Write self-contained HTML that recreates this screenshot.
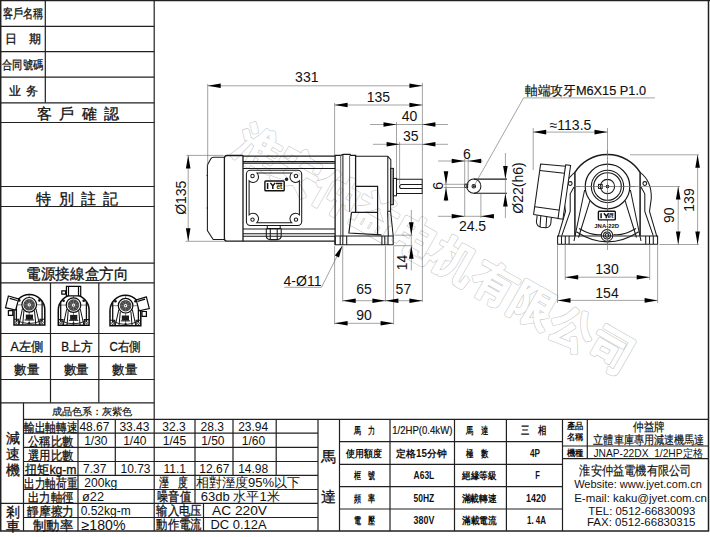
<!DOCTYPE html>
<html><head><meta charset="utf-8">
<style>
html,body{margin:0;padding:0;background:#fff;width:710px;height:537px;overflow:hidden}
svg{display:block;font-family:"Liberation Sans",sans-serif}
.g line,.g path,.g rect{stroke:#202020;stroke-width:1.2;fill:none}
.k{fill:#111}
.m{stroke:#111;stroke-width:0.3}
.m1{stroke:#111;stroke-width:0.18}
.o path,.o rect,.o circle,.o line{stroke:#1a1a1a;stroke-width:1.05;fill:none}
.dm path,.dm line{stroke:#666;stroke-width:0.6;fill:none}
.ar{fill:#000;stroke:none}
.wm{fill:none;stroke:#d2d2d2;stroke-width:0.6}
.dt{font-size:14px;fill:#111}
</style></head><body>
<svg width="710" height="537" viewBox="0 0 710 537">
<g transform="translate(231.6,151.1) rotate(29.71)" style="font-size:44px;font-weight:bold" letter-spacing="1.3"><text x="0" y="0" style="fill:none;stroke:#c6c6c6;stroke-width:2.7;stroke-linejoin:round">淮安仲益电机有限公司</text><text x="0" y="0" style="fill:#fff;stroke:#fff;stroke-width:1.5;stroke-linejoin:round">淮安仲益电机有限公司</text></g><g class="g"><path d="M0,0.6H710 M0.7,0V531.5 M708.5,0V531.5 M0,531H709" style="stroke-width:1.5"/><path d="M154.2,0V531 M45.3,0V102.8"/><path d="M0,26.3H154.2M0,51.6H154.2M0,77.2H154.2M0,102.8H154.2M0,122.5H154.2M0,186.5H154.2M0,206.5H154.2M0,263.2H154.2M0,282.8H154.2M0,333.5H154.2M0,356.5H154.2M0,379.5H154.2M0,402.8H154.2"/><path d="M50.5,282.8V402.8 M98.8,282.8V402.8"/><path d="M23.5,402.8V531 M23.5,419.3H708.5 M23.5,433.2H318 M23.5,447.3H318 M23.5,461.5H318 M23.5,475.3H318 M23.5,489.5H318 M0,503.3H318 M23.5,517.5H318"/><path d="M78,419.3V531 M115.3,419.3V475.3 M195,419.3V503.3 M233,419.3V475.3 M276.2,419.3V475.3 M318,419.3V531 M339.5,419.3V531 M203.5,503.3V531"/><path d="M339.5,441.7H562.5 M339.5,464.3H562.5 M339.5,486.6H562.5 M339.5,509H562.5"/><path d="M390,419.3V531 M454.5,419.3V531 M506.4,419.3V531 M562.5,419.3V531"/><path d="M562.5,446H708.5 M562.5,458.6H708.5 M587.3,419.3V458.6"/></g><g class="k"><text x="2.8" y="18" textLength="40.2" lengthAdjust="spacingAndGlyphs" class="m" style="font-size:12.5px">客戶名稱</text><text x="5" y="42.6" class="m" style="font-size:12px">日</text><text x="28.5" y="42.6" class="m" style="font-size:12px">期</text><text x="2" y="69.3" textLength="41" lengthAdjust="spacingAndGlyphs" class="m" style="font-size:12px">合同號碼</text><text x="9" y="94.8" class="m" style="font-size:12px">业</text><text x="25.5" y="94.8" class="m" style="font-size:12px">务</text><text x="36.9" y="119.2" class="m" style="font-size:14.5px">客</text><text x="59" y="119.2" class="m" style="font-size:14.5px">戶</text><text x="81.5" y="119.2" class="m" style="font-size:14.5px">確</text><text x="103.8" y="119.2" class="m" style="font-size:14.5px">認</text><text x="36.2" y="203.5" class="m" style="font-size:14.5px">特</text><text x="58.5" y="203.5" class="m" style="font-size:14.5px">別</text><text x="81" y="203.5" class="m" style="font-size:14.5px">註</text><text x="103.3" y="203.5" class="m" style="font-size:14.5px">記</text><text x="26.4" y="278.6" textLength="101.8" lengthAdjust="spacingAndGlyphs" class="m" style="font-size:14.5px">電源接線盒方向</text><text x="10.4" y="350.8" textLength="32.6" lengthAdjust="spacingAndGlyphs" class="m" style="font-size:13px">A左側</text><text x="61.3" y="350.8" textLength="31.2" lengthAdjust="spacingAndGlyphs" class="m" style="font-size:13px">B上方</text><text x="109.5" y="350.8" textLength="31.3" lengthAdjust="spacingAndGlyphs" class="m" style="font-size:13px">C右側</text><text x="14.3" y="374" textLength="25" lengthAdjust="spacingAndGlyphs" class="m" style="font-size:13px">數量</text><text x="63.9" y="374" textLength="25" lengthAdjust="spacingAndGlyphs" class="m" style="font-size:13px">數量</text><text x="112" y="374" textLength="25" lengthAdjust="spacingAndGlyphs" class="m" style="font-size:13px">數量</text><text x="51.6" y="414.6" textLength="81" lengthAdjust="spacingAndGlyphs" class="m1" style="font-size:10px">成品色系：灰紫色</text><text x="5.8" y="443" class="m" style="font-size:13.5px">減</text><text x="5.8" y="458.5" class="m" style="font-size:13.5px">速</text><text x="5.8" y="475" class="m" style="font-size:13.5px">機</text><text x="5.8" y="516.5" class="m" style="font-size:13.5px">剎</text><text x="5.8" y="530.5" class="m" style="font-size:13.5px">車</text><text x="23.9" y="431.8" textLength="53.3" lengthAdjust="spacingAndGlyphs" class="m" style="font-size:13px">輸出軸轉速</text><text x="27.9" y="445.90000000000003" textLength="45.4" lengthAdjust="spacingAndGlyphs" class="m" style="font-size:13px">公稱比數</text><text x="27.9" y="460.1" textLength="45.4" lengthAdjust="spacingAndGlyphs" class="m" style="font-size:13px">選用比數</text><text x="25" y="473.90000000000003" textLength="51.5" lengthAdjust="spacingAndGlyphs" class="m" style="font-size:13px">扭矩kg-m</text><text x="23.9" y="488.1" textLength="53.3" lengthAdjust="spacingAndGlyphs" class="m" style="font-size:13px">出力軸荷重</text><text x="27.9" y="501.90000000000003" textLength="45.4" lengthAdjust="spacingAndGlyphs" class="m" style="font-size:13px">出力軸徑</text><text x="27" y="516.1" textLength="47" lengthAdjust="spacingAndGlyphs" class="m" style="font-size:13px">靜摩擦力</text><text x="33" y="529.6" textLength="40" lengthAdjust="spacingAndGlyphs" class="m" style="font-size:13px">制動率</text><text x="79.4" y="430.8" style="font-size:12px">48.67</text><text x="119.4" y="430.8" style="font-size:12px">33.43</text><text x="162.3" y="430.8" style="font-size:12px">32.3</text><text x="200.6" y="430.8" style="font-size:12px">28.3</text><text x="238.2" y="430.8" style="font-size:12px">23.94</text><text x="84.2" y="444.7" style="font-size:12px">1/30</text><text x="123.2" y="444.7" style="font-size:12px">1/40</text><text x="162.8" y="444.7" style="font-size:12px">1/45</text><text x="201.2" y="444.7" style="font-size:12px">1/50</text><text x="241.8" y="444.7" style="font-size:12px">1/60</text><text x="83" y="472.8" style="font-size:12px">7.37</text><text x="120.5" y="472.8" style="font-size:12px">10.73</text><text x="163.5" y="472.8" style="font-size:12px">11.1</text><text x="199.3" y="472.8" style="font-size:12px">12.67</text><text x="238.2" y="472.8" style="font-size:12px">14.98</text><text x="84.2" y="486.8" textLength="33" lengthAdjust="spacingAndGlyphs" style="font-size:13px">200kg</text><text x="82" y="500.8" textLength="22" lengthAdjust="spacingAndGlyphs" style="font-size:13px">ø22</text><text x="80.7" y="514.6" textLength="50" lengthAdjust="spacingAndGlyphs" style="font-size:13px">0.52kg-m</text><text x="81.5" y="529.8" textLength="44" lengthAdjust="spacingAndGlyphs" style="font-size:14px">≥180%</text><text x="159" y="487.3" textLength="29" lengthAdjust="spacingAndGlyphs" class="m" style="font-size:12.5px">溼　度</text><text x="157" y="501.2" textLength="34" lengthAdjust="spacingAndGlyphs" class="m" style="font-size:12.5px">噪音值</text><text x="156.3" y="515.2" textLength="45.2" lengthAdjust="spacingAndGlyphs" class="m" style="font-size:12.5px">输入电压</text><text x="156.3" y="529" textLength="45.2" lengthAdjust="spacingAndGlyphs" class="m" style="font-size:12.5px">動作電流</text><text x="195.8" y="487.3" textLength="104.5" lengthAdjust="spacingAndGlyphs" style="font-size:13px">相對溼度95%以下</text><text x="200.7" y="501.2" textLength="79" lengthAdjust="spacingAndGlyphs" style="font-size:13px">63db 水平1米</text><text x="212" y="515" textLength="55" lengthAdjust="spacingAndGlyphs" style="font-size:13.5px">AC  220V</text><text x="210.5" y="529" textLength="56" lengthAdjust="spacingAndGlyphs" style="font-size:13.5px">DC 0.12A</text><text x="320.8" y="462.3" class="m" style="font-size:15px">馬</text><text x="320.8" y="501.5" class="m" style="font-size:15px">達</text></g><g class="k"><text x="354.3" y="434.3" textLength="21" lengthAdjust="spacingAndGlyphs" style="font-size:10px;font-weight:bold">馬　力</text><text x="392.2" y="434.3" textLength="60.2" lengthAdjust="spacingAndGlyphs" class="m1" style="font-size:10.5px">1/2HP(0.4kW)</text><text x="466" y="434.3" textLength="22" lengthAdjust="spacingAndGlyphs" style="font-size:10px;font-weight:bold">馬　達</text><text x="521" y="434.3" textLength="25" lengthAdjust="spacingAndGlyphs" style="font-size:11px;font-weight:bold">三　相</text><text x="346.2" y="456.8" textLength="35.6" lengthAdjust="spacingAndGlyphs" style="font-size:10px;font-weight:bold">使用額度</text><text x="396.4" y="456.8" textLength="50.2" lengthAdjust="spacingAndGlyphs" style="font-size:10px;font-weight:bold">定格15分钟</text><text x="466" y="456.8" textLength="22" lengthAdjust="spacingAndGlyphs" style="font-size:10px;font-weight:bold">極　數</text><text x="530" y="456.8" textLength="10" lengthAdjust="spacingAndGlyphs" style="font-size:10px;font-weight:bold">4P</text><text x="354.3" y="479.2" textLength="21" lengthAdjust="spacingAndGlyphs" style="font-size:10px;font-weight:bold">框　號</text><text x="413.6" y="479.2" textLength="20.7" lengthAdjust="spacingAndGlyphs" style="font-size:10px;font-weight:bold">A63L</text><text x="462.2" y="479.2" textLength="34.6" lengthAdjust="spacingAndGlyphs" style="font-size:10px;font-weight:bold">絕緣等級</text><text x="535.2" y="479.2" textLength="4.6" lengthAdjust="spacingAndGlyphs" style="font-size:10px;font-weight:bold">F</text><text x="354.3" y="501.6" textLength="21" lengthAdjust="spacingAndGlyphs" style="font-size:10px;font-weight:bold">頻　率</text><text x="413.6" y="501.6" textLength="20.7" lengthAdjust="spacingAndGlyphs" style="font-size:10px;font-weight:bold">50HZ</text><text x="461.5" y="501.6" textLength="35.3" lengthAdjust="spacingAndGlyphs" style="font-size:10px;font-weight:bold">滿載轉速</text><text x="526" y="501.6" textLength="20" lengthAdjust="spacingAndGlyphs" style="font-size:10px;font-weight:bold">1420</text><text x="354.3" y="523.8" textLength="21" lengthAdjust="spacingAndGlyphs" style="font-size:10px;font-weight:bold">電　壓</text><text x="413.6" y="523.8" textLength="20.7" lengthAdjust="spacingAndGlyphs" style="font-size:10px;font-weight:bold">380V</text><text x="462.2" y="523.8" textLength="34.6" lengthAdjust="spacingAndGlyphs" style="font-size:10px;font-weight:bold">滿載電流</text><text x="527" y="523.8" textLength="19" lengthAdjust="spacingAndGlyphs" style="font-size:10px;font-weight:bold">1. 4A</text></g><g class="k"><text x="566.6" y="429.4" textLength="16.6" lengthAdjust="spacingAndGlyphs" style="font-size:8.5px;font-weight:bold">產品</text><text x="566.6" y="440" textLength="16.6" lengthAdjust="spacingAndGlyphs" style="font-size:8.5px;font-weight:bold">名稱</text><text x="566.6" y="456" textLength="16.6" lengthAdjust="spacingAndGlyphs" style="font-size:8.5px;font-weight:bold">機種</text><text x="632.9" y="431.3" textLength="31.9" lengthAdjust="spacingAndGlyphs" class="m1" style="font-size:11.5px">仲益牌</text><text x="593.4" y="443.6" textLength="110.9" lengthAdjust="spacingAndGlyphs" class="m1" style="font-size:11.5px">立體車庫專用減速機馬達</text><text x="593.4" y="457" textLength="109.6" lengthAdjust="spacingAndGlyphs" style="font-size:11px">JNAP-22DX&#160;&#160;1/2HP定格</text><text x="579.3" y="475.3" textLength="112.3" lengthAdjust="spacingAndGlyphs" class="m1" style="font-size:12.5px">淮安仲益電機有限公司</text><text x="574.2" y="488" textLength="127.6" lengthAdjust="spacingAndGlyphs" style="font-size:10px">Website: www.jyet.com.cn</text><text x="574.2" y="501.6" textLength="132.7" lengthAdjust="spacingAndGlyphs" style="font-size:10px">E-mail: kaku@jyet.com.cn</text><text x="588.3" y="514.8" textLength="107.1" lengthAdjust="spacingAndGlyphs" style="font-size:10.5px">TEL: 0512-66830093</text><text x="587" y="526.3" textLength="108.4" lengthAdjust="spacingAndGlyphs" style="font-size:10.5px">FAX: 0512-66830315</text></g><defs><g id="ic"><path d="M-15.2,20.1V5A15.3,15.3 0 0 1 15.6,5V20.1H-15.2Z" style="stroke:#0a0a0a;stroke-width:1.5;fill:#fff"/><path d="M-15.5,0H15.8 M0,-10V20" style="stroke:#333;stroke-width:0.6;fill:none"/><path d="M-12.8,-4V19 M12.9,-4V19" style="stroke:#111;stroke-width:1.3;fill:none"/><path d="M-6.8,4L-10.2,20 M6.8,4L10.4,20 M-5.3,6L-6.5,20 M5.3,6L6.6,20" style="stroke:#111;stroke-width:1;fill:none"/><path d="M-12.8,15.5Q0,22 12.9,15.5" style="stroke:#111;stroke-width:0.9;fill:none"/><path d="M-15.2,14.5H-10.5V20.1 M15.6,14.5H10.8V20.1" style="stroke:#111;stroke-width:1.1;fill:none"/><circle cx="-13" cy="17.6" r="1" style="fill:#fff;stroke:#111;stroke-width:0.6"/><circle cx="13.2" cy="17.6" r="1" style="fill:#fff;stroke:#111;stroke-width:0.6"/><circle r="7.3" style="stroke:#0a0a0a;stroke-width:1.2;fill:#fff"/><circle r="5.8" style="fill:#4a4a4a"/><path d="M-5.6,0H5.6 M0,-5.6V5.6 M-4,-4L4,4 M-4,4L4,-4" style="stroke:#999;stroke-width:0.45"/><circle r="1.6" style="fill:#fff"/><circle r="0.6" style="fill:#333"/><rect x="-3.4" y="9.8" width="7.2" height="5" style="fill:#1a1a1a"/><path d="M-4.6,15.2H4.8" style="stroke:#111;stroke-width:1"/><circle cx="-9.9" cy="-4.4" r="1.3" style="fill:#111"/><circle cx="10.2" cy="-4.4" r="1.3" style="fill:#111"/><circle cx="0" cy="18.3" r="1.1" style="fill:#111"/></g></defs><g transform="translate(29.2,304.8)"><use href="#ic"/><path d="M-20.8,-8.8L-10.6,-5.8L-13.5,5.2L-23.7,2.9Z M-19.5,-6.5L-12,-4.3" style="stroke:#0a0a0a;stroke-width:1.2;fill:#fff"/><path d="M-20.8,5.8H-16.4V10.6H-20.8Z" style="stroke:#0a0a0a;stroke-width:1.2;fill:#fff"/></g><g transform="translate(73.5,305.1)"><use href="#ic"/><path d="M-7.1,-18.8H7.2V-9.2H-7.1Z M-5,-18.8V-9.2 M5,-18.8V-9.2" style="stroke:#0a0a0a;stroke-width:1.2;fill:#fff"/><path d="M-11.7,-14.2H-7.9V-10.9H-11.7Z" style="stroke:#0a0a0a;stroke-width:1.2;fill:#fff"/></g><g transform="translate(125.6,305.7) scale(-1,1)"><use href="#ic"/><path d="M-20.8,-8.8L-10.6,-5.8L-13.5,5.2L-23.7,2.9Z M-19.5,-6.5L-12,-4.3" style="stroke:#0a0a0a;stroke-width:1.2;fill:#fff"/><path d="M-20.8,5.8H-16.4V10.6H-20.8Z" style="stroke:#0a0a0a;stroke-width:1.2;fill:#fff"/></g><g class="o"><path d="M224.4,157.2H213.3Q211.8,157.3 211,158.6L207.4,164.9V230.5L213.2,239.5H224.4"/><path d="M206.5,175.5H208 M206.5,208H208" style="stroke-width:0.8"/><path d="M243,155.5H226.8Q224.4,155.7 224.4,158.3V238.4Q224.4,241.2 227,241.2H243V155.5" style="stroke-width:1.3"/><path d="M243,156.2H335.1" style="stroke-width:1.3"/><path d="M243,241.1H335.1" style="stroke-width:1.3"/><path d="M243,161.4H335.1"/><path d="M243,163.1H335.1"/><path d="M243,168.5H335.1"/><path d="M243,228.9H335.1"/><path d="M243,233.8H335.1"/><path d="M243,236.3H335.1"/><rect x="246.4" y="170.2" width="55.3" height="55.3" rx="4"/><path d="M256.9,173H291.6A5,5 0 0 0 299.4,180.8V214.8A5,5 0 0 0 291.6,222.7H256.9A5,5 0 0 0 249.1,214.8V180.8A5,5 0 0 0 256.9,173Z"/><circle cx="252.5" cy="176" r="1.7"/><circle cx="296" cy="176" r="1.7"/><circle cx="252.5" cy="219.6" r="1.7"/><circle cx="296" cy="219.6" r="1.7"/><circle cx="286.6" cy="179.2" r="1.2" style="fill:#222"/><path d="M267.3,225.5V228.5H280.2V225.5 M266.3,228.5V235.5Q266.3,239.6 270.5,239.6H277Q281.2,239.6 281.2,235.5V228.5 M270.3,228.5V239.4 M277.2,228.5V239.4"/><path d="M335.1,245V155.4H340.7L343.3,154.3H350L350.7,155.3H355.6V212.3" style="stroke-width:1.3"/><path d="M342.9,155V236"/><path d="M340.7,155.4V236 M349.6,155.4V212" style="stroke:#666"/><path d="M355.6,156.2H387.8L390.8,159.7V168.4 M387.8,156.2V211.3 M390.6,204.7V211.3 M387.8,211.3L390.6,211.3 M387.6,211.3L388.3,236 M390.6,211.3L393.2,236"/><path d="M355.6,186.3H377.6V234.8 M351.5,212.3H377.6 M351.5,212.3L348.9,233L381.5,234.8" style="stroke-width:1.2"/><path d="M335.1,236H393.2V244.8H335.1Z M340.2,236V244.8 M342.8,236V244.8 M346.7,236V244.8 M381.9,236V244.8 M384.8,236V244.8 M388,236V244.8"/><rect x="390.6" y="168.4" width="2.8" height="36.3" style="fill:#aaa"/><rect x="393.4" y="178.4" width="3.1" height="17.4"/><path d="M396.5,179.2H422.2V193.5H396.5"/><path d="M422.2,184.4H401.6Q399.6,184.4 399.6,186.45Q399.6,188.5 401.6,188.5H422.2"/><circle cx="473.8" cy="186.2" r="7.1"/><circle cx="473.8" cy="186.2" r="1.8"/><circle cx="473.8" cy="186.2" r="0.5" style="fill:#111"/><rect x="464.7" y="184.3" width="2.9" height="3.2"/><path d="M473.8,179.1H507 M473.8,193.3H507"/><path d="M574.9,235.7V172.3A38.8,38.8 0 0 1 640.1,172.3V235.7" style="stroke-width:1.5"/><circle cx="607.5" cy="186.5" r="22.3" style="stroke-width:1.2"/><circle cx="607.5" cy="186.5" r="16.2" style="stroke-width:1.1"/><circle cx="607.5" cy="186.5" r="13.8" style="stroke-width:1.1"/><circle cx="607.5" cy="186.5" r="7.1" style="stroke-width:1.1"/><circle cx="607.5" cy="186.5" r="1.3" style="fill:#111"/><rect x="598.5" y="184.4" width="3.7" height="4"/><path d="M584.6,190L574,241 M590,200.3L578.5,237.5 M630.4,190L641,241 M625,200.3L636.5,237.5"/><path d="M579,228.5Q592,236 601.5,234.5 M613.5,234.5Q623,236 636,228.5 M576.3,231.7Q607.5,252 638.7,231.7"/><circle cx="607" cy="235.4" r="5.8" style="fill:#fff"/><circle cx="607" cy="235.4" r="3.5"/><circle cx="607" cy="235.4" r="1.8"/><path d="M640.1,172.3Q651.8,181 651.3,198.4L649.5,211.5L656.9,236.6 M641,187L644.8,193.8V211.5L653.2,235.7"/><path d="M640.1,172.3Q651.8,181 651.3,198.4L649.5,211.5L656.9,236.6 M641,187L644.8,193.8V211.5L653.2,235.7" transform="translate(1215,0) scale(-1,1)"/><circle cx="644.8" cy="183.5" r="1.9"/><circle cx="570.2" cy="183.5" r="1.9"/><path d="M557.6,236H657.6V244.3H557.6Z M561.5,236V244.3 M565.3,236V244.3 M569.1,236V244.3 M645.7,236V244.3 M649.5,236V244.3 M653.3,236V244.3"/><path d="M540.6,164.1L565.7,166.2L558.7,218.5L533.6,214.4Z" style="fill:#fff;stroke-linejoin:round"/><path d="M539.9,170.4L564.3,173.2 M535,206.7L560,210.2"/><path d="M565.7,164.8L570.6,165.5L562.9,219.2L558,218.5Z" style="fill:#fff"/><path d="M537.2,215.3L536.4,222Q537,226.6 541,227.2L546,227.7Q550,227.5 550.8,223.5L551.3,217.6 M540.8,216L540,227 M546.7,217L546,227.5"/></g><g class="dm"><path d="M207.7,84.0L207.7,166.0"/><path d="M422.4,82.8L422.4,179.0"/><path d="M207.7,85.8L422.4,85.8"/><path d="M334.6,103.0L334.6,155.0"/><path d="M334.6,105.0L422.4,105.0"/><path d="M396.5,122.0L396.5,178.0"/><path d="M370.0,124.5L448.0,124.5"/><path d="M399.6,142.0L399.6,184.0"/><path d="M373.0,144.3L448.0,144.3"/><path d="M186.4,155.4L223.6,155.4"/><path d="M185.6,241.3L225.0,241.3"/><path d="M188.2,155.4L188.2,241.3"/><path d="M334.6,246.0L334.6,324.5"/><path d="M342.7,246.0L342.7,302.0"/><path d="M385.4,246.0L385.4,302.0"/><path d="M393.6,246.0L393.6,324.5"/><path d="M422.4,194.0L422.4,302.0"/><path d="M342.7,300.7L422.4,300.7"/><path d="M334.6,323.3L393.6,323.3"/><path d="M395.0,235.2L412.5,235.2"/><path d="M394.0,245.7L412.5,245.7"/><path d="M411.3,210.0L411.3,270.5"/><path d="M284.3,287.3L321.5,287.3L342.3,245.8"/><path d="M464.7,158.6L464.7,216.5"/><path d="M468.2,158.6L468.2,185.0"/><path d="M438.0,161.0L482.7,161.0"/><path d="M443.6,184.3L467.0,184.3"/><path d="M443.6,187.5L467.0,187.5"/><path d="M446.0,171.7L446.0,201.5"/><path d="M480.9,193.5L480.9,218.0"/><path d="M438.0,216.3L494.0,216.3"/><path d="M505.4,153.0L505.4,218.0"/><path d="M473.8,186.2L523.6,97.9L655.0,97.9"/><path d="M533.2,128.0L533.2,170.0"/><path d="M607.5,128.0L607.5,250.0"/><path d="M533.2,132.1L607.5,132.1"/><path d="M557.5,245.0L557.5,303.0"/><path d="M565.2,245.0L565.2,280.0"/><path d="M649.7,245.0L649.7,280.0"/><path d="M657.6,245.0L657.6,303.0"/><path d="M565.2,277.2L649.7,277.2"/><path d="M557.5,300.4L657.6,300.4"/><path d="M630.0,154.8L699.0,154.8"/><path d="M574.7,186.5L680.0,186.5"/><path d="M659.4,244.5L699.0,244.5"/><path d="M678.2,186.5L678.2,244.5"/><path d="M697.6,154.8L697.6,244.5"/><path d="M574.7,186.5H638 M607.5,150V246" style="stroke-dasharray:6 2 1 2"/></g><path class="ar" d="M207.7,85.8L220.7,83.5L220.7,88.1ZM422.4,85.8L409.4,88.1L409.4,83.5ZM334.6,105.0L347.6,102.7L347.6,107.3ZM422.4,105.0L409.4,107.3L409.4,102.7ZM396.5,124.5L383.5,126.8L383.5,122.2ZM422.4,124.5L435.4,122.2L435.4,126.8ZM399.6,144.3L386.6,146.6L386.6,142.0ZM422.4,144.3L435.4,142.0L435.4,146.6ZM188.2,155.4L190.5,168.4L185.9,168.4ZM188.2,241.3L185.9,228.3L190.5,228.3ZM342.7,300.7L355.7,298.4L355.7,303.0ZM385.4,300.7L372.4,303.0L372.4,298.4ZM385.4,300.7L398.4,298.4L398.4,303.0ZM422.4,300.7L409.4,303.0L409.4,298.4ZM334.6,323.3L347.6,321.0L347.6,325.6ZM393.6,323.3L380.6,325.6L380.6,321.0ZM411.3,235.2L409.0,222.2L413.6,222.2ZM411.3,245.7L413.6,258.7L409.0,258.7ZM342.3,245.8L339.0,257.6L334.9,255.5ZM464.7,161.0L451.7,163.3L451.7,158.7ZM468.2,161.0L481.2,158.7L481.2,163.3ZM446.0,184.3L443.7,171.3L448.3,171.3ZM446.0,187.5L448.3,200.5L443.7,200.5ZM464.7,216.3L451.7,218.6L451.7,214.0ZM480.9,216.3L493.9,214.0L493.9,218.6ZM505.4,179.1L503.1,166.1L507.7,166.1ZM505.4,193.4L507.7,206.4L503.1,206.4ZM533.2,132.1L546.2,129.8L546.2,134.4ZM607.5,132.1L594.5,134.4L594.5,129.8ZM565.2,277.2L578.2,274.9L578.2,279.5ZM649.7,277.2L636.7,279.5L636.7,274.9ZM557.5,300.4L570.5,298.1L570.5,302.7ZM657.6,300.4L644.6,302.7L644.6,298.1ZM678.2,186.5L680.5,199.5L675.9,199.5ZM678.2,244.5L675.9,231.5L680.5,231.5ZM697.6,154.8L699.9,167.8L695.3,167.8ZM697.6,244.5L695.3,231.5L699.9,231.5Z"/><g class="dt"><text x="306.8" y="82.2" text-anchor="middle" style="font-size:14px">331</text><text x="378.4" y="101.6" text-anchor="middle" style="font-size:14px">135</text><text x="409.5" y="121.3" text-anchor="middle" style="font-size:14px">40</text><text x="410.8" y="141" text-anchor="middle" style="font-size:14px">35</text><text x="186.2" y="197.7" text-anchor="middle" style="font-size:14px" transform="rotate(-90 186.2 197.7)">Ø135</text><text x="364" y="293.5" text-anchor="middle" style="font-size:14px">65</text><text x="403.4" y="293.5" text-anchor="middle" style="font-size:14px">57</text><text x="364" y="319.7" text-anchor="middle" style="font-size:14px">90</text><text x="406.5" y="262.5" text-anchor="middle" style="font-size:14px" transform="rotate(-90 406.5 262.5)">14</text><text x="302.5" y="285.8" text-anchor="middle" style="font-size:14px">4-Ø11</text><text x="466.8" y="158.6" text-anchor="middle" style="font-size:14px">6</text><text x="442.7" y="185.8" text-anchor="middle" style="font-size:14px" transform="rotate(-90 442.7 185.8)">6</text><text x="472.5" y="231.2" text-anchor="middle" style="font-size:14px">24.5</text><text x="522.5" y="188" text-anchor="middle" style="font-size:14px" transform="rotate(-90 522.5 188)">Ø22(h6)</text><text x="525" y="95" text-anchor="start" style="font-size:13px" textLength="121" lengthAdjust="spacingAndGlyphs" class="m1">軸端攻牙M6X15 P1.0</text><text x="570.5" y="129.6" text-anchor="middle" style="font-size:14px">≈113.5</text><text x="607" y="274.3" text-anchor="middle" style="font-size:14px">130</text><text x="607" y="297.5" text-anchor="middle" style="font-size:14px">154</text><text x="673.8" y="215.3" text-anchor="middle" style="font-size:14px" transform="rotate(-90 673.8 215.3)">90</text><text x="694.4" y="200" text-anchor="middle" style="font-size:14px" transform="rotate(-90 694.4 200)">139</text><text x="594.3" y="228.2" style="font-size:6px;font-weight:bold" textLength="24.8" lengthAdjust="spacingAndGlyphs">JNA-22D</text></g><rect x="264.9" y="181.0" width="19.3" height="9.799999999999999" rx="0.8" fill="#fff" stroke="#111" stroke-width="1.4"/><path d="M267.59999999999997,182.9V189.1 M270.4,182.9L272.8,185.9L275.2,182.9 M272.8,185.9V189.1 M276.0,183.60000000000002H282.29999999999995" stroke="#111" stroke-width="1.5" fill="none"/><text x="276.5" y="189.2" style="font-size:6.72px;font-weight:bold;fill:#111" textLength="5.8" lengthAdjust="spacingAndGlyphs">et</text><rect x="598.4000000000001" y="211.29999999999998" width="16.900000000000002" height="8.6" rx="0.8" fill="#fff" stroke="#111" stroke-width="1.4"/><path d="M601.1,213.2V218.2 M603.9000000000001,213.2L606.3000000000001,216.2L608.7,213.2 M606.3000000000001,216.2V218.2 M609.5,213.9H613.4" stroke="#111" stroke-width="1.5" fill="none"/><text x="607.6" y="218.29999999999998" style="font-size:6.0px;font-weight:bold;fill:#111" textLength="5.8" lengthAdjust="spacingAndGlyphs">et</text></svg>
</body></html>
